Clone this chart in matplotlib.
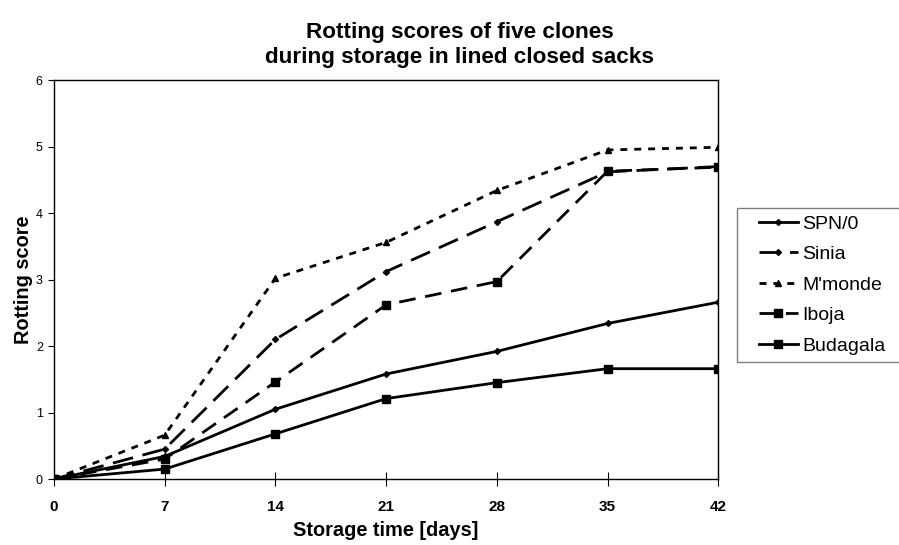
import numpy as np
import matplotlib.pyplot as plt
from matplotlib.lines import Line2D
from matplotlib.legend_handler import HandlerLine2D

plt.rcParams['font.family'] = ['Liberation Sans', 'DejaVu Sans']

# storage days and rotting scores per clone
days = [0, 7, 14, 21, 28, 35, 42]
spn0 = [0, 0.34, 1.05, 1.58, 1.92, 2.34, 2.66]
sinia = [0, 0.45, 2.10, 3.12, 3.87, 4.62, 4.70]
mmonde = [0, 0.66, 3.02, 3.56, 4.34, 4.95, 4.99]
iboja = [0, 0.30, 1.46, 2.62, 2.97, 4.63, 4.69]
budagala = [0, 0.15, 0.68, 1.21, 1.45, 1.66, 1.66]

fig = plt.figure(figsize=(8.99, 5.45), dpi=100)
ax = fig.add_axes([0.060, 0.121, 0.739, 0.732])

lw = 2.0
ax.plot(days, spn0, color='black', lw=lw, marker='D', ms=3, label='SPN/0')
ax.plot(days, sinia, color='black', lw=lw, marker='D', ms=3,
        dashes=(7.5, 3.5), label='Sinia')
ax.plot(days, mmonde, color='black', lw=lw, marker='^', ms=4.5,
        dashes=(2.5, 2.5), label="M'monde")
ax.plot(days, iboja, color='black', lw=lw, marker='s', ms=6,
        dashes=(6, 3.5), label='Iboja')
ax.plot(days, budagala, color='black', lw=lw, marker='s', ms=6, label='Budagala')

ax.set_xlim(0, 42)
ax.set_ylim(0, 6)
ax.set_xticks(days)
ax.set_yticks(range(7))
ax.tick_params(axis='x', direction='inout', length=10, labelsize=11, pad=10)
ax.tick_params(axis='y', direction='out', length=4, labelsize=9, pad=4)
for t in ax.get_xticklabels():
    t.set_fontweight('bold')
for s in ax.spines.values():
    s.set_linewidth(1.0)

ax.set_xlabel('Storage time [days]', fontsize=14.4, fontweight='bold', labelpad=5)
ax.set_ylabel('Rotting score', fontsize=14.4, fontweight='bold', labelpad=2)
fig.text(0.511, 0.918, 'Rotting scores of five clones\nduring storage in lined closed sacks',
         ha='center', va='center', fontsize=16.2, fontweight='bold', linespacing=1.25)

# legend handles sit a little in from the frame edge
leg = fig.legend(loc='upper left', bbox_to_anchor=(0.820, 0.618, 0.2, 0.0),
                 mode='expand', fontsize=14, frameon=True, fancybox=False,
                 handlelength=2.75, handletextpad=0.25, labelspacing=0.66,
                 borderaxespad=0, borderpad=0.36,
                 handler_map={Line2D: HandlerLine2D(xpad=0.77)})
leg.get_frame().set_edgecolor('#606060')
leg.get_frame().set_linewidth(1.0)

fig.savefig('out.png', dpi=100)
